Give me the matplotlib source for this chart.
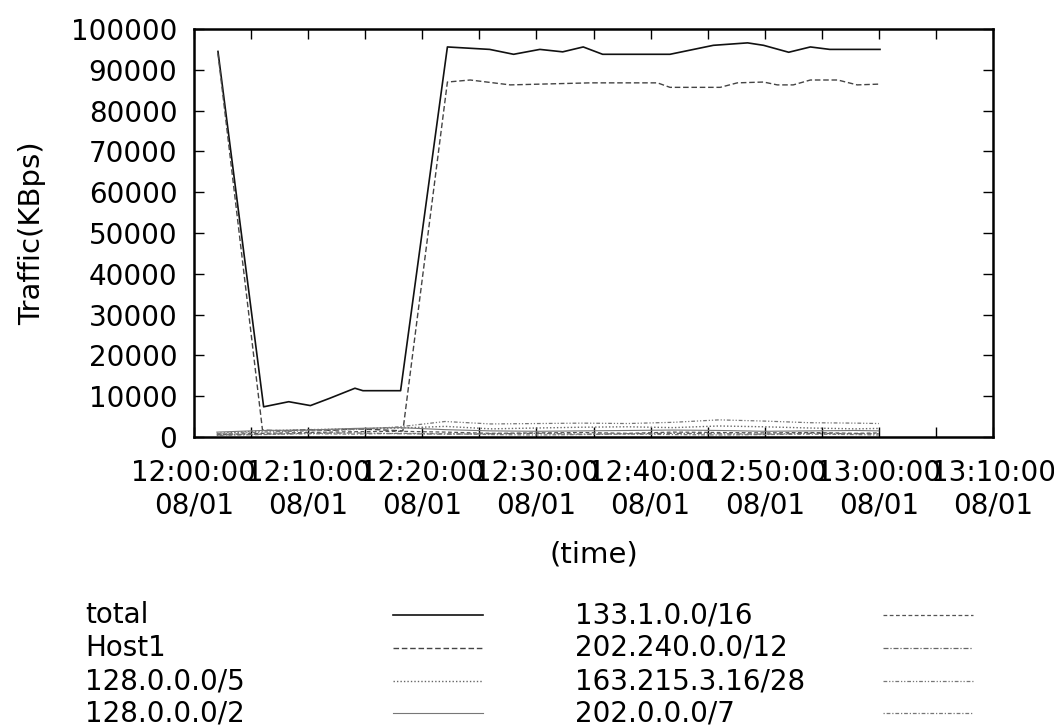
import matplotlib
matplotlib.use("Agg")
import matplotlib.pyplot as plt
from matplotlib.lines import Line2D

# minutes after 12:00 (08/01)
total_min = [2.1, 6.1, 8.3, 10.2, 11.9, 14.1, 14.8, 18.1, 22.2, 25.9, 28.0, 30.3,
             32.3, 34.1, 35.8, 41.7, 45.5, 48.5, 49.9, 52.1, 54.0, 55.7, 60.1]
total_val = [94500, 7400, 8650, 7700, 9500, 11950, 11350, 11350, 95600, 95000, 93800, 95000,
             94400, 95600, 93800, 93800, 96000, 96600, 96000, 94300, 95600, 95000, 95000]

host1_min = [2.1, 6.0, 8.0, 10.0, 12.0, 14.0, 16.0, 18.3, 22.2, 24.2, 27.7, 34.7,
             40.6, 41.7, 46.1, 47.6, 49.9, 51.1, 52.5, 54.0, 56.4, 58.1, 60.1]
host1_val = [94000, 1700, 1500, 1800, 1600, 2000, 1800, 1500, 87000, 87500, 86300, 86800,
             86800, 85700, 85700, 86800, 87000, 86300, 86300, 87500, 87500, 86300, 86500]

# low level prefixes, common sample grid
low_min = [2, 6, 10, 14, 18, 22, 26, 30, 34, 38, 42, 46, 50, 54, 58, 60]
net_128_5 = [900, 1500, 1800, 2000, 2200, 2600, 2000, 2200, 2400, 2500, 2300, 2700, 2500, 2200, 2000, 2100]
net_128_2 = [1200, 1600, 1700, 2100, 2300, 1800, 1500, 1400, 1500, 1600, 1700, 1600, 1400, 1500, 1600, 1500]
net_133 = [600, 900, 1100, 1300, 1400, 1200, 900, 1000, 1100, 900, 1200, 1100, 1000, 1100, 900, 1000]
net_202_240 = [500, 700, 900, 1000, 800, 700, 800, 900, 700, 800, 900, 800, 700, 900, 800, 800]
net_163 = [800, 1200, 1500, 1800, 2500, 3800, 3200, 3300, 3400, 3300, 3600, 4200, 3900, 3500, 3400, 3300]
net_202_7 = [400, 600, 800, 700, 900, 800, 600, 500, 600, 700, 600, 500, 600, 700, 600, 500]

tick_min = [0, 10, 20, 30, 40, 50, 60, 70]
tick_labels = ["12:00:00\n08/01", "12:10:00\n08/01", "12:20:00\n08/01", "12:30:00\n08/01",
               "12:40:00\n08/01", "12:50:00\n08/01", "13:00:00\n08/01", "13:10:00\n08/01"]

series = [
    ("total", total_min, total_val, "#111111", "-", 1.2),
    ("Host1", host1_min, host1_val, "#444444", (0, (4, 2)), 1.0),
    ("128.0.0.0/5", low_min, net_128_5, "#666666", (0, (1, 1.5)), 1.0),
    ("128.0.0.0/2", low_min, net_128_2, "#777777", "-", 0.8),
    ("133.1.0.0/16", low_min, net_133, "#555555", (0, (3, 2)), 0.9),
    ("202.240.0.0/12", low_min, net_202_240, "#666666", (0, (4, 1.5, 1, 1.5)), 0.9),
    ("163.215.3.16/28", low_min, net_163, "#777777", (0, (3, 1.5, 1, 1.5, 1, 1.5)), 0.9),
    ("202.0.0.0/7", low_min, net_202_7, "#777777", (0, (1, 1.5, 3, 1.5)), 0.9),
]

W, H = 1054, 726
fig = plt.figure(figsize=(W / 100, H / 100), dpi=100)
ax = fig.add_axes([194 / W, 1 - 437 / H, (993 - 194) / W, (437 - 29) / H])

for name, xs, ys, col, ls, lw in series:
    ax.plot(xs, ys, color=col, linestyle=ls, linewidth=lw)

ax.set_xlim(0, 70)
ax.set_ylim(0, 100000)
ax.set_xticks(tick_min)
ax.set_xticklabels(tick_labels)
ax.set_xticks([5, 15, 25, 35, 45, 55, 65], minor=True)
ax.set_yticks(range(0, 100001, 10000))
ax.tick_params(which="both", direction="in", top=True, right=True, length=7, width=1,
               labelsize=20)
ax.tick_params(axis="y", pad=12)
ax.tick_params(axis="x", pad=16)
for s in ax.spines.values():
    s.set_linewidth(1.8)

ax.set_ylabel("Traffic(KBps)", fontsize=21, labelpad=18)
ax.set_xlabel("(time)", fontsize=21, labelpad=15)

# gnuplot style key below the plot
rows_y = [615, 648, 681, 713]
cols = [(85, 393, 483), (575, 883, 973)]
for i, (name, xs, ys, col, ls, lw) in enumerate(series):
    tx, l0, l1 = cols[i // 4]
    y = 1 - rows_y[i % 4] / H
    fig.text(tx / W, y, name, fontsize=20, ha="left", va="center")
    fig.add_artist(Line2D([l0 / W, l1 / W], [y, y], color=col, linestyle=ls, linewidth=lw))

fig.savefig("out.png", dpi=100)
